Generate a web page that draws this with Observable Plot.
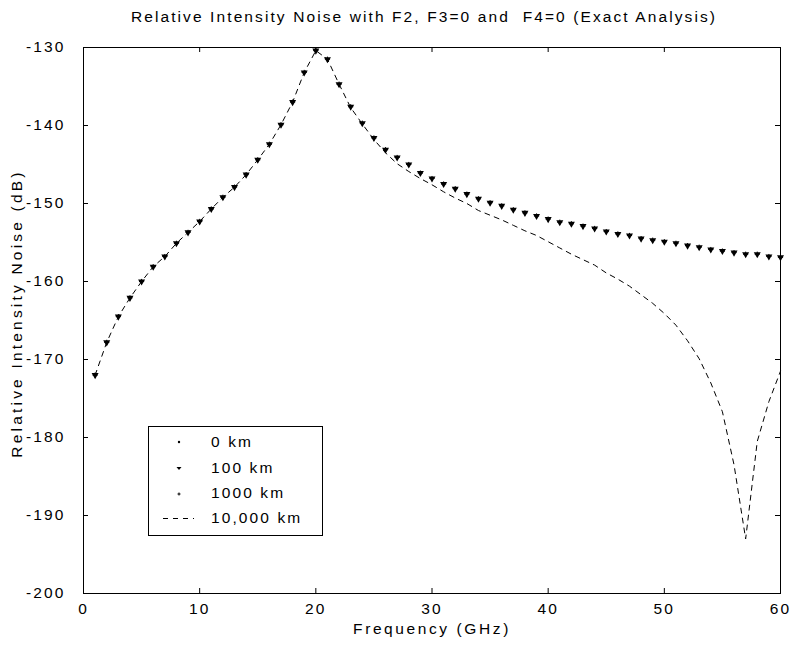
<!DOCTYPE html>
<html><head><meta charset="utf-8">
<script src="https://cdn.jsdelivr.net/npm/d3@7"></script>
<script src="https://cdn.jsdelivr.net/npm/@observablehq/plot@0.6"></script>
<style>
body{margin:0;background:#fff;}
#wrap{position:relative;width:790px;height:651px;font-family:"Liberation Sans",Arial,Helvetica,sans-serif;color:#000;}
#title{position:absolute;left:124px;top:8px;width:600px;text-align:center;font-size:15.5px;letter-spacing:2.1px;white-space:pre;}
#chart{position:absolute;left:0;top:40px;}
#chart svg text{letter-spacing:2.1px;}
#legend{position:absolute;left:148px;top:426px;width:173px;height:108px;border:1px solid #000;background:#fff;font-size:15.5px;letter-spacing:2.1px;}
.row{position:absolute;left:0;height:20px;width:100%;}
.row svg{position:absolute;left:0;top:0;}
.row span{position:absolute;left:62px;top:1px;white-space:pre;}
</style></head><body>
<div id="wrap">
  <div id="title"></div>
  <div id="chart"></div>
  <div id="legend"></div>
</div>
<script>
const chartTitle = "Relative Intensity Noise with F2, F3=0 and  F4=0 (Exact Analysis)";
const xLabel = "Frequency (GHz)";
const yLabel = "Relative Intensity Noise (dB)";
const seriesNames = ["0 km", "100 km", "1000 km", "10,000 km"];
const xTicks = [0, 10, 20, 30, 40, 50, 60];
const yTicks = [-200, -190, -180, -170, -160, -150, -140, -130];

// frequency samples (GHz)
const freq = [1,2,3,4,5,6,7,8,9,10,11,12,13,14,15,16,17,18,19,20,21,22,23,24,25,26,27,28,29,30,
              31,32,33,34,35,36,37,38,39,40,41,42,43,44,45,46,47,48,49,50,51,52,53,54,55,56,57,58,59,60];

// RIN (dB) for 0 km, 100 km and 1000 km (curves coincide)
const rin0km = [-172.0,-167.8,-164.5,-162.1,-160.0,-158.1,-156.8,-155.1,-153.7,-152.3,
                -150.7,-149.2,-147.9,-146.3,-144.4,-142.4,-139.9,-137.0,-133.2,-130.4,
                -131.5,-134.7,-137.6,-139.7,-141.6,-143.1,-144.1,-145.0,-146.1,-146.8,
                -147.5,-148.1,-148.8,-149.4,-149.9,-150.3,-150.8,-151.2,-151.6,-152.0,
                -152.4,-152.6,-152.9,-153.2,-153.6,-153.9,-154.1,-154.5,-154.7,-154.9,
                -155.1,-155.4,-155.6,-155.9,-156.1,-156.3,-156.5,-156.5,-156.8,-156.9];
const rin100km = [-172.0,-167.8,-164.5,-162.1,-160.0,-158.1,-156.8,-155.1,-153.7,-152.3,
                -150.7,-149.2,-147.9,-146.3,-144.4,-142.4,-139.9,-137.0,-133.2,-130.4,
                -131.5,-134.7,-137.6,-139.7,-141.6,-143.1,-144.1,-145.0,-146.1,-146.8,
                -147.5,-148.1,-148.8,-149.4,-149.9,-150.3,-150.8,-151.2,-151.6,-152.0,
                -152.4,-152.6,-152.9,-153.2,-153.6,-153.9,-154.1,-154.5,-154.7,-154.9,
                -155.1,-155.4,-155.6,-155.9,-156.1,-156.3,-156.5,-156.5,-156.8,-156.9];
const rin1000km = [-172.0,-167.8,-164.5,-162.1,-160.0,-158.1,-156.8,-155.1,-153.7,-152.3,
                -150.7,-149.2,-147.9,-146.3,-144.4,-142.4,-139.9,-137.0,-133.2,-130.4,
                -131.5,-134.7,-137.6,-139.7,-141.6,-143.1,-144.1,-145.0,-146.1,-146.8,
                -147.5,-148.1,-148.8,-149.4,-149.9,-150.3,-150.8,-151.2,-151.6,-152.0,
                -152.4,-152.6,-152.9,-153.2,-153.6,-153.9,-154.1,-154.5,-154.7,-154.9,
                -155.1,-155.4,-155.6,-155.9,-156.1,-156.3,-156.5,-156.5,-156.8,-156.9];
const rin10000km = [-172.0,-167.8,-164.5,-162.1,-160.0,-158.1,-156.8,-155.1,-153.7,-152.3,
                -150.7,-149.2,-147.9,-146.3,-144.4,-142.4,-139.9,-137.0,-133.2,-130.4,
                -131.5,-134.7,-137.7,-139.8,-141.8,-143.5,-144.9,-145.9,-146.8,-147.6,
                -148.5,-149.3,-150.0,-150.9,-151.5,-152.1,-152.8,-153.5,-154.1,-154.9,
                -155.7,-156.5,-157.2,-157.9,-158.9,-159.7,-160.6,-161.7,-162.8,-164.1,
                -165.6,-167.6,-169.9,-173.0,-176.7,-183.5,-193.0,-180.5,-175.4,-171.5];

const toRows = arr => freq.map((f, i) => ({f, v: arr[i]}));
const d0 = toRows(rin0km), d100 = toRows(rin100km), d1000 = toRows(rin1000km), d10000 = toRows(rin10000km);

document.getElementById("title").textContent = chartTitle;

const W = 790, H = 611, mL = 83, mR = 10, mT = 7, mB = 58;
const PW = W - mL - mR, PH = H - mT - mB;
const inner = v => v > xTicks[0] && v < xTicks[xTicks.length - 1];
const innerY = v => v > yTicks[0] && v < yTicks[yTicks.length - 1];

const svg = Plot.plot({
  width: W, height: H,
  marginLeft: mL, marginRight: mR, marginTop: mT, marginBottom: mB,
  style: {fontFamily: '"Liberation Sans", Arial, Helvetica, sans-serif', fontSize: "15.5px", color: "black", background: "white", overflow: "visible"},
  x: {domain: [0, 60], ticks: xTicks, tickSize: 0, tickPadding: 9, label: null, tickFormat: d => String(d)},
  y: {domain: [-200, -130], ticks: yTicks, tickSize: 0, tickPadding: 18, label: null, tickFormat: d => String(d)},
  marks: [
    Plot.frame({stroke: "black", strokeWidth: 1}),
    Plot.tickX(xTicks.filter(inner), {x: d => d, insetTop: PH - 5, stroke: "black"}),
    Plot.tickX(xTicks.filter(inner), {x: d => d, insetBottom: PH - 5, stroke: "black"}),
    Plot.tickY(yTicks.filter(innerY), {y: d => d, insetLeft: PW - 5, stroke: "black"}),
    Plot.tickY(yTicks.filter(innerY), {y: d => d, insetRight: PW - 5, stroke: "black"}),
    Plot.line(d10000, {x: "f", y: "v", stroke: "black", strokeWidth: 1, strokeDasharray: "5,5"}),
    Plot.dot(d1000, {x: "f", y: "v", symbol: "plus", r: 1.8, stroke: "black", strokeWidth: 1, fill: "none"}),
    Plot.dot(d100, {x: "f", y: "v", symbol: "triangle", rotate: 180, r: 2.6, fill: "black", stroke: "none"}),
    Plot.dot(d0, {x: "f", y: "v", r: 1.2, fill: "black", stroke: "none"}),
    Plot.text([xLabel], {text: d => d, frameAnchor: "bottom", dy: 40, fontSize: 15.5, textAnchor: "middle"}),
    Plot.text([yLabel], {text: d => d, frameAnchor: "left", rotate: -90, dx: -66, dy: -7, fontSize: 15.5, textAnchor: "middle"})
  ]
});
d3.select(svg).selectAll("text").filter(function() { return this.textContent === yLabel; }).style("letter-spacing", "3.2px");
d3.select(svg).selectAll("text").filter(function() { return this.textContent === xLabel; }).style("letter-spacing", "2.6px");
document.getElementById("chart").appendChild(svg);

// legend (HTML overlay inside the plot box)
const rowY = [15, 41, 66, 91];
const legend = d3.select("#legend");
seriesNames.forEach((name, i) => {
  const row = legend.append("div").attr("class", "row").style("top", (rowY[i] - 10) + "px");
  const s = row.append("svg").attr("width", 60).attr("height", 20);
  if (i === 0) s.append("circle").attr("cx", 30).attr("cy", 10).attr("r", 1.2).attr("fill", "black");
  if (i === 1) s.append("path").attr("d", "M27.5,9 L32.5,9 L30,12 Z").attr("fill", "black");
  if (i === 2) s.append("path").attr("d", "M28.5,11 L31.5,11 M30,9.5 L30,12.5").attr("stroke", "black").attr("stroke-width", 1);
  if (i === 3) s.append("line").attr("x1", 14).attr("x2", 45).attr("y1", 10.5).attr("y2", 10.5).attr("stroke", "black").attr("stroke-dasharray", "5,5");
  row.append("span").text(name);
});
</script>
</body></html>
